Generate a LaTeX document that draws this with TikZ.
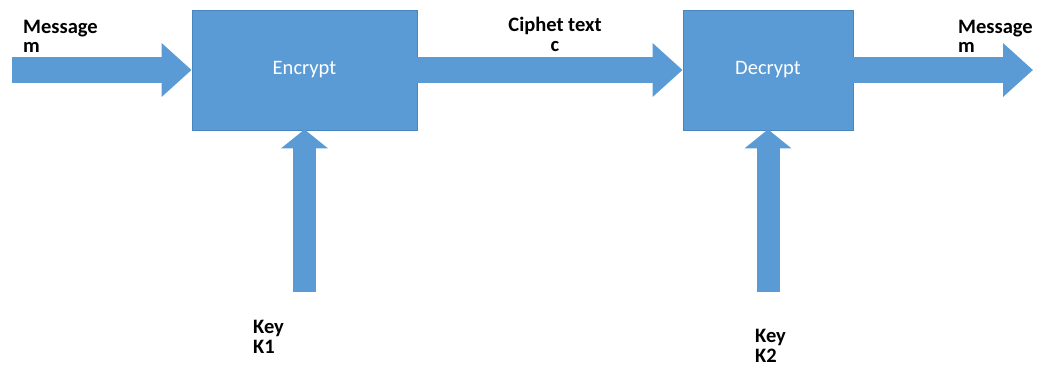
\documentclass[tikz,border=0pt]{standalone}
\usepackage{fontspec}
\setmainfont{Carlito}
\usetikzlibrary{arrows.meta}
\definecolor{blockblue}{HTML}{5B9BD5}
\definecolor{blockedge}{HTML}{4A86BE}
\tikzset{
  cipherbox/.style={draw=blockedge, line width=0.8pt, fill=blockblue,
    minimum height=120pt, inner sep=0pt, text=white,
    font=\fontsize{20.5}{20}\selectfont},
  flowarrow/.style={draw=blockblue, line width=26pt,
    -{Triangle[length=30pt,width=52pt]}},
  keyarrow/.style={draw=blockblue, line width=23pt,
    -{Triangle[length=19pt,width=46pt]}},
  lbl/.style={font=\bfseries\fontsize{20.5}{20}\selectfont, inner sep=0pt}
}
\begin{document}
\begin{tikzpicture}[x=1pt,y=-1pt]
  \useasboundingbox (0,0) rectangle (1042,369);
  % encryption and decryption blocks
  \node[cipherbox, minimum width=225pt] (enc) at (304.5,70) {Encrypt};
  \node[cipherbox, minimum width=170pt] (dec) at (768,70) {Decrypt};
  % free ends of the block arrows
  \coordinate (src) at (12,70);
  \coordinate (dst) at (1033,70);
  \coordinate (k1src) at (304.5,292);
  \coordinate (k2src) at (768,292);
  % data flow
  \draw[flowarrow] (src) -- (enc.west);
  \draw[flowarrow] (enc.east) -- (dec.west);
  \draw[flowarrow] (dec.east) -- (dst);
  % key inputs
  \draw[keyarrow] (k1src) -- ([yshift=1pt]enc.south);
  \draw[keyarrow] (k2src) -- ([yshift=1pt]dec.south);
  % labels (base anchor sits on the last line)
  \node[lbl, anchor=base west, align=left] (min) at (23,53) {Message\\m};
  \node[lbl, anchor=base, align=center] (ctext) at (555,52) {Ciphet text\\c};
  \node[lbl, anchor=base west, align=left] (mout) at (958,53) {Message\\m};
  \node[lbl, anchor=base west, align=left] (k1) at (253,353) {Key\\K1};
  \node[lbl, anchor=base west, align=left] (k2) at (755,362) {Key\\K2};
\end{tikzpicture}
\end{document}
